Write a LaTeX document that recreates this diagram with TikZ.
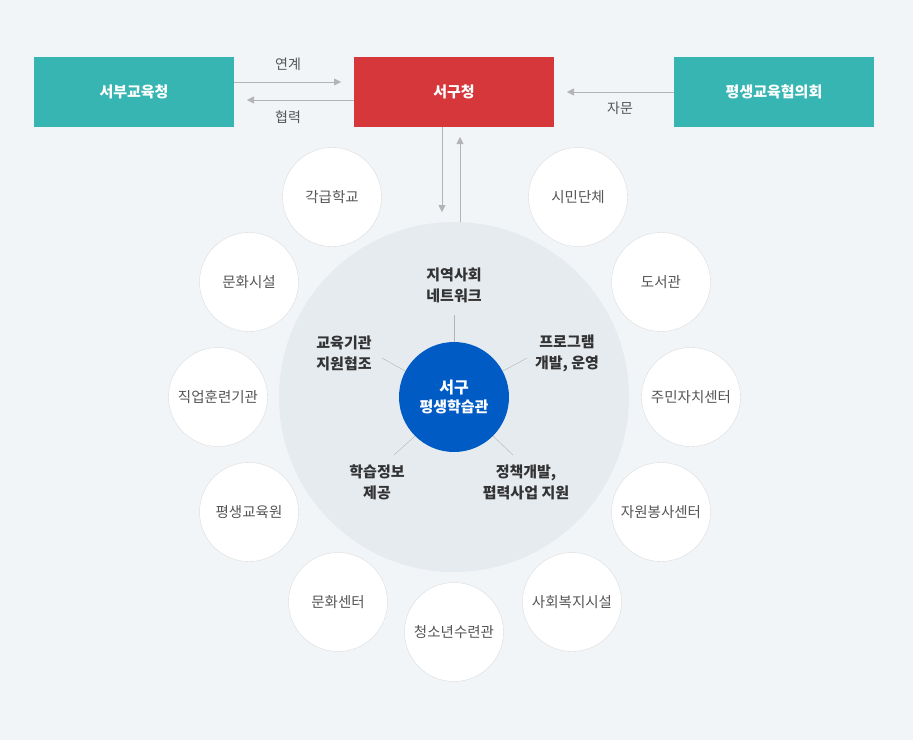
\documentclass[tikz,border=0pt]{standalone}
\usepackage{fontspec}
\setmainfont{Noto Sans CJK KR}
\usetikzlibrary{arrows.meta}
\definecolor{bgc}{HTML}{F2F5F8}
\definecolor{hubc}{HTML}{E6EBF0}
\definecolor{tealc}{HTML}{36B5B3}
\definecolor{redc}{HTML}{D5373B}
\definecolor{bluec}{HTML}{005BC5}
\definecolor{ringc}{HTML}{DCDCDC}
\definecolor{arrc}{HTML}{B4B4B4}
\definecolor{txtc}{HTML}{555555}
\definecolor{darkc}{HTML}{333333}

\begin{document}
\begin{tikzpicture}[x=1pt, y=-1pt]
	\tikzstyle{box} = [minimum width=200pt, minimum height=70pt, inner sep=0pt, text=white, font=\fontsize{15}{18}\selectfont\bfseries]
	\tikzstyle{org} = [draw=ringc, fill=white, circle, minimum size=99pt, inner sep=0pt, text=txtc, font=\fontsize{14.5}{17}\selectfont]
	\tikzstyle{role} = [align=center, text=darkc, font=\fontsize{15}{21}\selectfont\bfseries]
	\tikzstyle{arr} = [draw=arrc, -{Triangle[length=7pt, width=7pt]}]
	\tikzstyle{lbl} = [text=txtc, font=\fontsize{14}{17}\selectfont]
	% background
	\fill[bgc] (0,0) rectangle (913,740);
	\useasboundingbox (0,0) rectangle (913,740);
	% top row
	\node[box, fill=tealc] (seobu) at (134,92) {서부교육청};
	\node[box, fill=redc] (gucheong) at (454,92) {서구청};
	\node[box, fill=tealc] (hyeopui) at (774,92) {평생교육협의회};
	\coordinate (a1) at (341,82); \coordinate (a2) at (247,100); \coordinate (a3) at (567,92);
	\draw[arr] (seobu.east |- a1) -- (a1); \draw[arr] (gucheong.west |- a2) -- (a2); \draw[arr] (hyeopui.west |- a3) -- (a3);
	\node[lbl] at (288,64) {연계}; \node[lbl] at (288,117) {협력}; \node[lbl] at (620,108) {자문};
	% hub
	\node[circle, fill=hubc, minimum size=350pt, inner sep=0pt] (hub) at (454,397) {};
	\coordinate (d1) at (442,212); \coordinate (u1) at (460,137);
	\draw[arr] (gucheong.south -| d1) -- (d1); \draw[arr] (hub.north -| u1) -- (u1);
	\node[circle, fill=bluec, minimum size=110pt, inner sep=0pt, align=center, text=white] (center) at (454,397) {{\fontsize{16}{20}\selectfont\bfseries 서구}\\[4pt]{\fontsize{15}{18}\selectfont\bfseries 평생학습관}};
	% spokes
	\coordinate (s1) at (454,315); \coordinate (s2) at (382,358); \coordinate (s3) at (527,358); \coordinate (s4) at (394,455); \coordinate (s5) at (513,455);
	\foreach \a/\s in {90/s1, 152/s2, 28/s3, 225/s4, -45/s5} \draw[arrc] (center.\a) -- (\s);
	\node[role] (net) at (454,285) {지역사회\\네트워크};
	\node[role] (support) at (344,353) {교육기관\\지원협조};
	\node[role] (program) at (567,353) {프로그램\\개발, 운영};
	\node[role] (info) at (377,482) {학습정보\\제공};
	\node[role] (policy) at (526,482) {정책개발,\\폅력사업 지원};
	% partners
	\node[org] (school) at (332,197) {각급학교};
	\node[org] (civic) at (578,197) {시민단체};
	\node[org] (culture) at (249,282) {문화시설};
	\node[org] (library) at (661,282) {도서관};
	\node[org] (job) at (218,397) {직업훈련기관};
	\node[org] (resident) at (691,397) {주민자치센터};
	\node[org] (lifelong) at (249,512) {평생교육원};
	\node[org] (volunteer) at (661,512) {자원봉사센터};
	\node[org] (cultcenter) at (338,602) {문화센터};
	\node[org] (welfare) at (572,602) {사회복지시설};
	\node[org] (youth) at (454,632) {청소년수련관};
\end{tikzpicture}
\end{document}
